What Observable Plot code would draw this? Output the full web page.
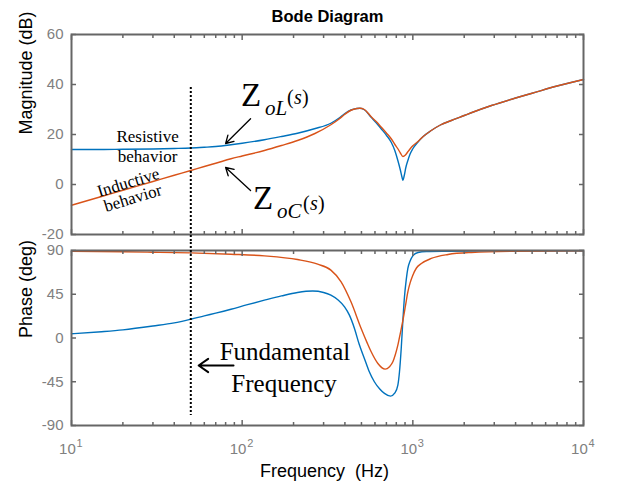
<!DOCTYPE html>
<html>
<head>
<meta charset="utf-8">
<script src="https://cdn.jsdelivr.net/npm/d3@7"></script>
<script src="https://cdn.jsdelivr.net/npm/@observablehq/plot@0.6"></script>
<style>
  body { margin: 0; background: #fff; }
  #root { position: relative; width: 621px; height: 487px; background: #fff; overflow: hidden; }
  #root svg { position: absolute; left: 0; overflow: visible; }
</style>
</head>
<body>
<div id="root"></div>
<script>
// ---------- data ----------
// Magnitude (dB) of Z_oL(s) (blue)
const magFreqL = [10, 15, 20, 30, 40, 50, 60, 70, 86, 100, 135, 170, 211, 265, 331, 370, 398, 434, 470, 490, 520, 570, 610, 652, 700, 747, 785, 817, 845, 865, 875, 890, 910, 935, 965, 1000, 1072, 1150, 1282, 1450, 1680, 2000, 2200, 2890, 4000, 5000, 7000, 10000];
const magL     = [14.0, 14.0, 14.1, 14.2, 14.4, 14.6, 14.9, 15.2, 15.9, 16.5, 17.9, 19.2, 20.5, 22.3, 24.5, 26.6, 28.3, 29.8, 30.4, 30.5, 29.9, 26.9, 24.7, 22.3, 19.7, 16.9, 13.5, 9.6, 5.8, 2.8, 1.7, 3.5, 6.8, 9.6, 12.3, 14.3, 17.0, 19.2, 21.6, 23.8, 25.6, 27.6, 28.7, 31.6, 34.6, 36.5, 39.4, 42.0];
// Magnitude (dB) of Z_oC(s) (orange)
const magFreqC = [10, 15, 20, 30, 40, 50, 60, 70, 86, 100, 135, 170, 211, 265, 331, 370, 398, 434, 470, 490, 520, 570, 610, 652, 700, 747, 785, 817, 845, 875, 905, 935, 965, 1000, 1072, 1150, 1282, 1450, 1680, 2000, 2200, 2890, 4000, 5000, 7000, 10000];
const magC     = [-8.3, -4.8, -2.3, 1.2, 3.7, 5.6, 7.2, 8.5, 10.3, 11.4, 13.6, 15.6, 17.6, 20.3, 23.9, 26.2, 28.0, 29.7, 30.4, 30.5, 30.0, 27.1, 25.2, 23.0, 20.6, 18.3, 16.0, 14.3, 12.6, 11.2, 11.8, 13.1, 14.3, 15.5, 17.2, 19.2, 21.6, 23.8, 25.6, 27.6, 28.7, 31.6, 34.6, 36.5, 39.4, 42.0];
// Phase (deg) of Z_oL(s) (blue)
const phFreqL = [10, 15, 20, 30, 40, 50, 60, 70, 86, 106, 135, 170, 211, 259, 300, 331, 365, 398, 425, 455, 485, 520, 555, 595, 640, 682, 740, 785, 817, 835, 855, 875, 893, 915, 935, 965, 1000, 1072, 1200, 1608, 3000, 10000];
const phaseL  = [4.3, 6.5, 8.4, 12.3, 15.5, 19.3, 22.8, 25.6, 29.6, 34.0, 38.9, 43.3, 46.8, 48.3, 46.8, 44.0, 39.0, 32.0, 23.5, 9.8, -6.5, -21.0, -34.5, -45.0, -52.5, -57.0, -59.8, -56.5, -48.5, -35.0, -10.8, 19.0, 42.0, 60.0, 71.5, 79.5, 84.5, 88.0, 89.0, 89.3, 89.6, 89.8];
// Phase (deg) of Z_oC(s) (orange)
const phFreqC = [10, 20, 30, 50, 86, 135, 211, 277, 331, 380, 434, 498, 540, 570, 624, 688, 730, 764, 790, 817, 845, 875, 905, 935, 965, 1000, 1050, 1122, 1282, 1608, 2200, 4000, 10000];
const phaseC  = [89.3, 88.7, 88.2, 87.6, 86.2, 84.5, 80.7, 75.9, 69.8, 57.8, 37.2, 9.8, -5.0, -14.2, -26.2, -32.0, -29.5, -24.5, -17.0, -7.4, 5.0, 18.3, 33.0, 47.5, 57.0, 64.6, 72.0, 76.6, 81.8, 85.9, 88.0, 89.2, 89.6];

const seriesNames = ["ZoL", "ZoC"];
const seriesColors = ["#0072BD", "#D95319"];

// axes
const decadeTicks = [10, 100, 1000, 10000];
const decadeExps = ["1", "2", "3", "4"];
const minorMultipliers = [2, 3, 4, 5, 6, 7, 8, 9];
const magTicks = [-20, 0, 20, 40, 60];
const phaseTicks = [-90, -45, 0, 45, 90];

// annotations (frequency in Hz, value in panel units)
const fundamental = [{f: 50, magTop: 38.8, phaseBottom: -79.7}];
const zolArrow = [{f1: 112, v1: 26.3, f2: 80, v2: 16.4}];
const zocArrow = [{f1: 112, v1: -2.4, f2: 80, v2: 6.8}];
const fundArrow = [{f1: 89, v1: -28.3, f2: 55.6, v2: -28.3}];
const zolLabel = [{f: 98.3, v: 31.6}];
const zocLabel = [{f: 115.6, v: -9.6}];
const resistiveLabel = [{f: 27.9, v: 16.9, t: "Resistive"}, {f: 27.9, v: 8.9, t: "behavior"}];
const inductiveLabel = [{f: 21.5, v: 0.8, t: "Inductive"}, {f: 22.9, v: -5.4, t: "behavior"}];
const fundLabel = [{f: 178, v: -23.1, t: "Fundamental"}, {f: 176, v: -55.7, t: "Frequency"}];

// ---------- build rows ----------
const magRows = [
  ...magFreqL.map((f, i) => ({f, v: magL[i], s: seriesNames[0]})),
  ...magFreqC.map((f, i) => ({f, v: magC[i], s: seriesNames[1]}))
];
const phaseRows = [
  ...phFreqL.map((f, i) => ({f, v: phaseL[i], s: seriesNames[0]})),
  ...phFreqC.map((f, i) => ({f, v: phaseC[i], s: seriesNames[1]}))
];
const minorTicks = decadeTicks.slice(0, -1).flatMap(d => minorMultipliers.map(k => k * d));

const gray = "#666666";
const labelGray = "#808080";
const sans = "Liberation Sans, Arial, Helvetica, sans-serif";
const serif = "Liberation Serif, Times New Roman, serif";

function frameMarks(yTicks) {
  const tickOpts = {tickFormat: () => "", color: gray, strokeWidth: 1.5, label: null};
  return [
    Plot.axisY({ticks: yTicks, anchor: "left", tickSize: -5, ...tickOpts}),
    Plot.axisY({ticks: yTicks, anchor: "right", tickSize: -5, ...tickOpts}),
    Plot.axisY({ticks: yTicks, anchor: "left", tickSize: 0, tickPadding: 8, color: labelGray, fontSize: 15, label: null, tickFormat: d => String(d)}),
    Plot.axisX({ticks: decadeTicks, anchor: "bottom", tickSize: -5, ...tickOpts}),
    Plot.axisX({ticks: decadeTicks, anchor: "top", tickSize: -5, ...tickOpts}),
    Plot.axisX({ticks: minorTicks, anchor: "bottom", tickSize: -3, ...tickOpts}),
    Plot.axisX({ticks: minorTicks, anchor: "top", tickSize: -3, ...tickOpts}),
    Plot.frame({stroke: gray, strokeWidth: 2})
  ];
}

// composite label Z_sub(s): Z, italic subscript, then (s) with italic s
function zLabel(data, sub, subWidth, parenDy) {
  const base = {x: "f", y: "v", textAnchor: "start", lineAnchor: "bottom", fontFamily: serif, fill: "black"};
  const p = 24 + subWidth;
  return [
    Plot.text(data, {...base, text: () => "Z", fontSize: 33}),
    Plot.text(data, {...base, text: () => sub, dx: 24, dy: 9, fontStyle: "italic", fontSize: 21}),
    Plot.text(data, {...base, text: () => "(", dx: p, dy: parenDy, fontSize: 20}),
    Plot.text(data, {...base, text: () => "s", dx: p + 7, dy: parenDy, fontStyle: "italic", fontSize: 20}),
    Plot.text(data, {...base, text: () => ")", dx: p + 15, dy: parenDy, fontSize: 20})
  ];
}

const common = {
  width: 621,
  marginLeft: 71,
  marginRight: 38,
  style: {fontFamily: sans, background: "transparent", overflow: "visible"},
  color: {domain: seriesNames, range: seriesColors}
};

// ---------- top panel: magnitude ----------
const topPlot = Plot.plot({
  ...common,
  height: 242,
  marginTop: 34,
  marginBottom: 8,
  x: {type: "log", domain: [10, 10000], label: null},
  y: {domain: [-20, 60], label: null},
  marks: [
    Plot.line(magRows, {x: "f", y: "v", stroke: "s", z: "s", strokeWidth: 1.4, curve: "monotone-x"}),
    ...frameMarks(magTicks),
    Plot.ruleX(fundamental, {x: "f", y1: "magTop", y2: () => magTicks[0] - 3.2, stroke: "black", strokeWidth: 2, strokeDasharray: "2,2"}),
    Plot.text(["Bode Diagram"], {frameAnchor: "top", dy: -13, lineAnchor: "bottom", fontWeight: "bold", fontSize: 16.5, fill: "black"}),
    Plot.text(["Magnitude (dB)"], {frameAnchor: "left", dx: -45, rotate: -90, lineAnchor: "middle", fontSize: 18, fill: "black"}),
    // annotations
    Plot.arrow(zolArrow, {x1: "f1", y1: "v1", x2: "f2", y2: "v2", stroke: "black", strokeWidth: 1.3, headLength: 10}),
    Plot.arrow(zocArrow, {x1: "f1", y1: "v1", x2: "f2", y2: "v2", stroke: "black", strokeWidth: 1.3, headLength: 10}),
    ...zLabel(zolLabel, "oL", 22, -2),
    ...zLabel(zocLabel, "oC", 26, 1),
    Plot.text(resistiveLabel, {x: "f", y: "v", text: "t", lineAnchor: "bottom", fontFamily: serif, fontSize: 17, fill: "black"}),
    Plot.text(inductiveLabel, {x: "f", y: "v", text: "t", lineAnchor: "middle", rotate: -17, fontFamily: serif, fontSize: 17, fill: "black"})
  ]
});

// ---------- bottom panel: phase ----------
const bottomPlot = Plot.plot({
  ...common,
  height: 245,
  marginTop: 8,
  marginBottom: 62,
  x: {type: "log", domain: [10, 10000], label: null},
  y: {domain: [-90, 90], label: null},
  marks: [
    Plot.line(phaseRows, {x: "f", y: "v", stroke: "s", z: "s", strokeWidth: 1.4, curve: "monotone-x"}),
    ...frameMarks(phaseTicks),
    Plot.ruleX(fundamental, {x: "f", y1: () => phaseTicks[4] + 8.3, y2: "phaseBottom", stroke: "black", strokeWidth: 2, strokeDasharray: "2,2"}),
    Plot.text(decadeTicks, {x: d => d, text: () => "10", frameAnchor: "bottom", textAnchor: "end", dx: 4.3, dy: 28.3, lineAnchor: "bottom", fill: labelGray, fontSize: 15}),
    Plot.text(decadeTicks, {x: d => d, text: (d, i) => decadeExps[i], frameAnchor: "bottom", textAnchor: "start", dx: 5, dy: 21.5, lineAnchor: "bottom", fill: labelGray, fontSize: 11}),
    Plot.text(["Frequency\u00a0 (Hz)"], {frameAnchor: "bottom", dx: -3, dy: 51.7, lineAnchor: "bottom", fontSize: 18, fill: "black"}),
    Plot.text(["Phase (deg)"], {frameAnchor: "left", dx: -45, rotate: -90, lineAnchor: "middle", fontSize: 18, fill: "black"}),
    Plot.arrow(fundArrow, {x1: "f1", y1: "v1", x2: "f2", y2: "v2", stroke: "black", strokeWidth: 2, headLength: 9, headAngle: 70}),
    Plot.text(fundLabel, {x: "f", y: "v", text: "t", lineAnchor: "bottom", fontFamily: serif, fontSize: 25, fill: "black"})
  ]
});

const root = document.getElementById("root");
topPlot.style.top = "0px";
bottomPlot.style.top = "242px";
root.appendChild(topPlot);
root.appendChild(bottomPlot);
</script>
</body>
</html>
